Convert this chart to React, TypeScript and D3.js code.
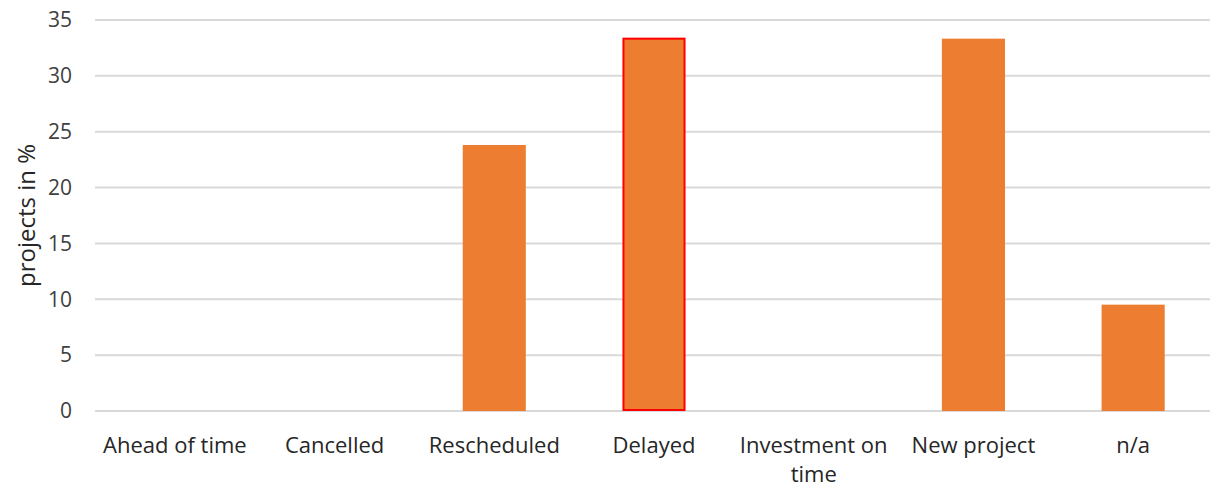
import React from "react";
import * as d3 from "d3";

const categories = ["Ahead of time", "Cancelled", "Rescheduled", "Delayed", "Investment on time", "New project", "n/a"];
const values = [0, 0, 23.81, 33.33, 0, 33.33, 9.52];
const highlighted = ["Delayed"];
const yTicks = [0, 5, 10, 15, 20, 25, 30, 35];
const yTitle = "projects in %";

const W = 1210, H = 485;
const M = { left: 95, right: -3, top: 20, bottom: 74 };
const FONT = "'Open Sans', sans-serif";

function wrapLabel(s: string): string[] {
  if (s === "Investment on time") return ["Investment on", "time"];
  return [s];
}

export default function App() {
  const x = d3.scaleBand<string>().domain(categories).range([M.left, W - M.right]).paddingInner(0.605).paddingOuter(0.3025);
  const y = d3.scaleLinear().domain([0, 35]).range([H - M.bottom, M.top]);
  return (
    <svg width={W} height={H} style={{ position: "absolute", left: 0, top: 0 }}>
      <rect width={W} height={H} fill="#fff" />
      {yTicks.map(t => (
        <g key={t}>
          <line x1={M.left} x2={W} y1={y(t)} y2={y(t)} stroke="#d9d9d9" strokeWidth={2} />
          <text x={72} y={y(t)} dy="0.35em" textAnchor="end" fontFamily={FONT} fontSize={21} fill="#404040">{t}</text>
        </g>
      ))}
      {categories.map((c, i) => {
        const v = values[i];
        if (!v) return null;
        const hl = highlighted.includes(c);
        return (
          <rect key={c} x={x(c)! + (hl ? 1 : 0)} y={y(v)} width={x.bandwidth() - (hl ? 2 : 0)} height={y(0) - y(v) - (hl ? 1 : 0)}
            fill="#ED7D31" stroke={hl ? "#FF0000" : "none"} strokeWidth={hl ? 2 : 0} />
        );
      })}
      {categories.map(c => (
        <text key={c} x={x(c)! + x.bandwidth() / 2} y={453} textAnchor="middle" fontFamily={FONT} fontSize={22} fill="#262626">
          {wrapLabel(c).map((l, j) => (
            <tspan key={j} x={x(c)! + x.bandwidth() / 2} dy={j === 0 ? 0 : 29}>{l}</tspan>
          ))}
        </text>
      ))}
      <text transform={`translate(35, ${(y(0) + y(35)) / 2}) rotate(-90)`} textAnchor="middle" fontFamily={FONT} fontSize={24} fill="#262626">{yTitle}</text>
    </svg>
  );
}
